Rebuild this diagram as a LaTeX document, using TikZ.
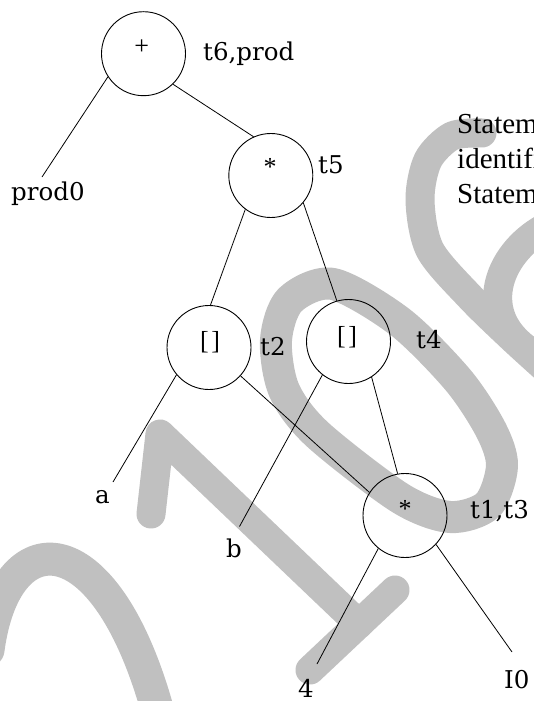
\documentclass[tikz,border=0pt]{standalone}
\usepackage{fontspec}
\setmainfont{Liberation Serif}
\newfontfamily\treefont{DejaVu Serif}
\newfontfamily\symfont[LetterSpace=10]{Liberation Serif}
\definecolor{wmgray}{RGB}{192,192,192}
\begin{document}
\begin{tikzpicture}[x=1pt,y=-1pt,
  wm/.style={draw=wmgray, line width=29pt, line cap=round, line join=round},
  opnode/.style={circle, draw=black, line width=0.9pt, minimum size=84pt, inner sep=0pt},
  sym/.style={font=\symfont\fontsize{26}{26}\selectfont, inner sep=0pt, anchor=base},
  lbl/.style={font=\treefont\fontsize{24.5}{24.5}\selectfont, inner sep=0pt, anchor=base west},
  note/.style={font=\fontsize{29}{29}\selectfont, inner sep=0pt, anchor=base west},
  conn/.style={draw=black, line width=0.8pt}]
\useasboundingbox (0,0) rectangle (533,701);
\fill[white] (0,0) rectangle (533,701);

% watermark strokes
\draw[wm, line width=33pt] (-12,650) .. controls (5,520) and (105,520) .. (158,712);
\draw[wm] (151,514) -- (160,434) -- (359,624);
\draw[wm] (310,670) -- (395,590);
\draw[wm, line width=32pt] plot[smooth cycle] coordinates {(276,340) (290,300) (333,284) (400,322) (458,380) (491,430) (502,466) (488,505) (450,517) (400,498) (317,434) (284,390)};
\draw[wm] plot[smooth] coordinates {(482,133) (452,136) (428,160) (420,200) (430,250) (470,297) (511,337) (545,368)};
\draw[wm] (548,226) .. controls (500,250) and (475,310) .. (525,348);

% operator circles
\node[opnode] (n1) at (143.5,53.7) {};
\node[opnode] (n5) at (270.8,175.5) {};
\node[opnode] (n2) at (209,347.5) {};
\node[opnode] (n4) at (348.5,341.5) {};
\node[opnode] (n3) at (405,515.5) {};

% operator symbols
\node[sym] (s1) at (141.7,55) {+};
\node[sym] (s5) at (270,175) {*};
\node[sym] (s2) at (210,349.6) {[]};
\node[sym] (s4) at (347,344.6) {[]};
\node[sym] (s3) at (405,517) {*};

% temp labels
\node[lbl] (l1) at (203,60) {t6,prod};
\node[lbl] (l5) at (318,173) {t5};
\node[lbl] (l2) at (260,355) {t2};
\node[lbl] (l4) at (416,348) {t4};
\node[lbl] (l3) at (470,518) {t1,t3};

% leaves
\node[lbl] (p0) at (11,200) {prod0};
\node[lbl] (la) at (95,503) {a};
\node[lbl] (lb) at (226,557) {b};
\node[lbl] (l4v) at (298,697) {4};
\node[lbl] (li0) at (504,688) {I0};

\coordinate (e-p0) at (42,177);
\coordinate (e-a) at (113,482);
\coordinate (e-b) at (239.5,526.5);
\coordinate (e-4) at (317,664);
\coordinate (e-i0) at (512,652);

% connectors
\draw[conn] (n1.213.6) -- (e-p0);
\draw[conn] (n1.-46.7) -- (n5.114.8);
\draw[conn] (n5.233.2) -- (n2.88.7);
\draw[conn] (n5.-40.3) -- (n4.106.2);
\draw[conn] (n2.220.7) -- (e-a);
\draw[conn] (n2.-42.7) -- (n3.147.3);
\draw[conn] (n4.232.7) -- (e-b);
\draw[conn] (n4.-57.2) -- (n3.100.7);
\draw[conn] (n3.231.9) -- (e-4);
\draw[conn] (n3.-43.7) -- (e-i0);

% side note (cut at the edge)
\node[note] (st1) at (457,133) {Statem};
\node[note] (st2) at (457,168) {identifi};
\node[note] (st3) at (457,203) {Statem};
\end{tikzpicture}
\end{document}
